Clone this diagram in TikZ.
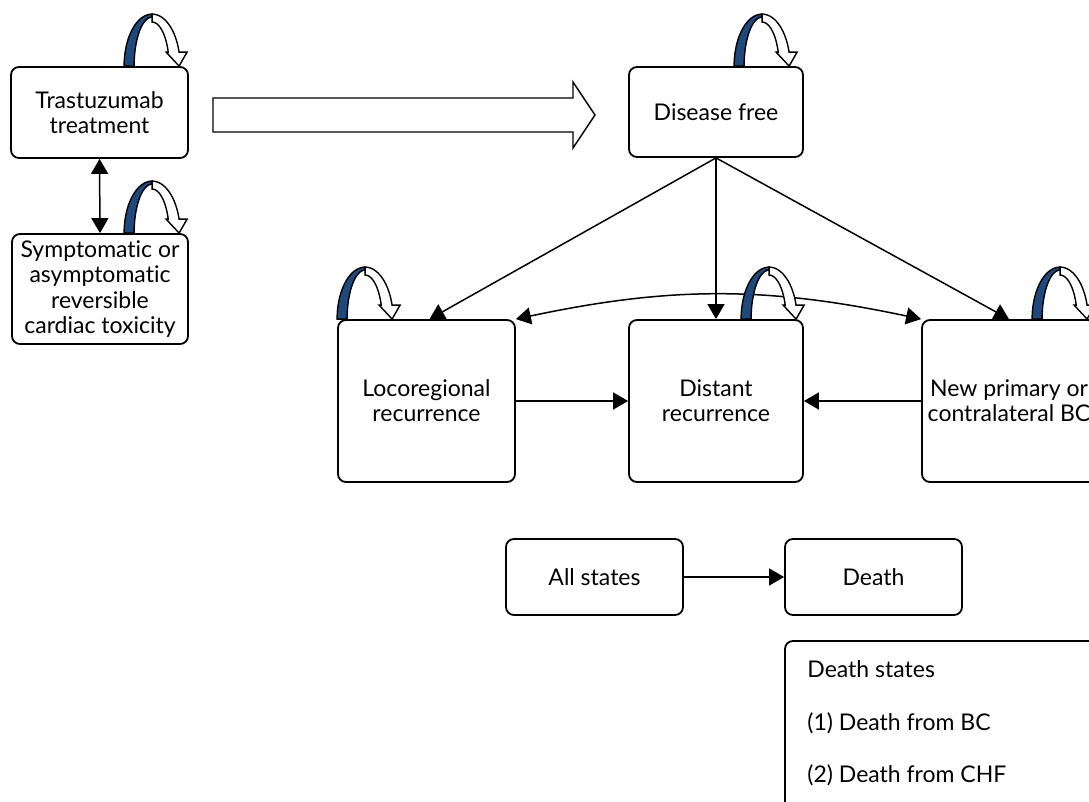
\documentclass[tikz,border=0pt]{standalone}
\usepackage{fontspec}
\setmainfont{Lato}[RawFeature={-liga}]
\usetikzlibrary{arrows.meta,calc}
\definecolor{loopblue}{RGB}{31,73,125}
\tikzset{
  state/.style={draw, rounded corners=4pt, line width=0.9pt, align=center, inner sep=0pt,
    font=\fontsize{11.5}{12.6}\selectfont},
  conn/.style={line width=0.75pt, -{Triangle[length=7.5pt,width=8.5pt]}},
  dconn/.style={line width=0.75pt, {Triangle[length=7.5pt,width=8.5pt]}-{Triangle[length=7.5pt,width=8.5pt]}},
  lbl/.style={anchor=base west, inner sep=0pt, font=\fontsize{11.5}{12.6}\selectfont},
  selfloop/.pic={
    \draw[line width=0.7pt, fill=loopblue]
      plot[smooth, samples=25, domain=180:90, variable=\t] ({28*cos(\t)},{-52*sin(\t)})
      -- plot[smooth, samples=25, domain=90:180, variable=\t] ({18*cos(\t)},{-49*sin(\t)}) -- cycle;
    \draw[line width=0.7pt, fill=white]
      plot[smooth, samples=20, domain=90:15.6, variable=\t] ({28*cos(\t)},{-52*sin(\t)})
      -- (35,-14) -- (27,0) -- (14,-14) -- (16.1,-14)
      -- plot[smooth, samples=20, domain=18.55:90, variable=\t] ({17*cos(\t)},{-44*sin(\t)}) -- cycle;
  }
}
\begin{document}
\begin{tikzpicture}[x=0.5pt,y=-0.5pt]
\useasboundingbox (0,0) rectangle (1089,802);
\clip (0,0) rectangle (1089,802);

% states
\node[state, minimum width=88.5pt, minimum height=45.5pt] (trast) at (99.5,112.5) {Trastuzumab\\treatment};
\node[state, minimum width=88pt, minimum height=55pt] (sympt) at (100,289) {Symptomatic or\\asymptomatic\\reversible\\cardiac toxicity};
\node[state, minimum width=87pt, minimum height=45pt] (dfree) at (716,112) {Disease free};
\node[state, minimum width=88.5pt, minimum height=81pt] (loco) at (426.5,401) {Locoregional\\recurrence};
\node[state, minimum width=87pt, minimum height=81pt] (dist) at (716,401) {Distant\\recurrence};
\node[state, minimum width=87pt, minimum height=81pt] (newp) at (1009,401) {New primary or\\contralateral BC};
\node[state, minimum width=88.5pt, minimum height=38pt] (all) at (594.5,577) {All states};
\node[state, minimum width=88.5pt, minimum height=38pt] (death) at (873.5,577) {Death};

% death states legend
\draw[line width=0.9pt, rounded corners=4pt] (785,850) -- (785,641) -- (1120,641) -- (1120,850);
\node[lbl] (ds0) at (807,678) {Death states};
\node[lbl] (ds1) at (807,731) {(1) Death from BC};
\node[lbl] (ds2) at (807,783) {(2) Death from CHF};

% block arrow
\draw[line width=0.7pt, fill=white] (213,98) -- (573,98) -- (573,82) -- (595,115) -- (573,148) -- (573,132) -- (213,132) -- cycle;

% connectors
\draw[dconn] (trast.south) -- (sympt.north);
\draw[conn] (dfree.south) -- ([xshift=1.5pt]loco.north);
\draw[conn] (dfree.south) -- (dist.north);
\draw[conn] (dfree.south) -- (newp.north);
\draw[dconn] (loco.north east) to[bend left=12] (newp.north west);
\draw[conn] (loco.east) -- (dist.west);
\draw[conn] (newp.west) -- (dist.east);
\draw[conn] (all.east) -- (death.west);

% self loops
\pic at ([xshift=71pt]trast.north west) {selfloop};
\pic at ([xshift=70.5pt]sympt.north west) {selfloop};
\pic at ([xshift=67pt]dfree.north west) {selfloop};
\pic at ([xshift=14pt]loco.north west) {selfloop};
\pic at ([xshift=70.5pt]dist.north west) {selfloop};
\pic at ([xshift=69.5pt]newp.north west) {selfloop};
\end{tikzpicture}
\end{document}
